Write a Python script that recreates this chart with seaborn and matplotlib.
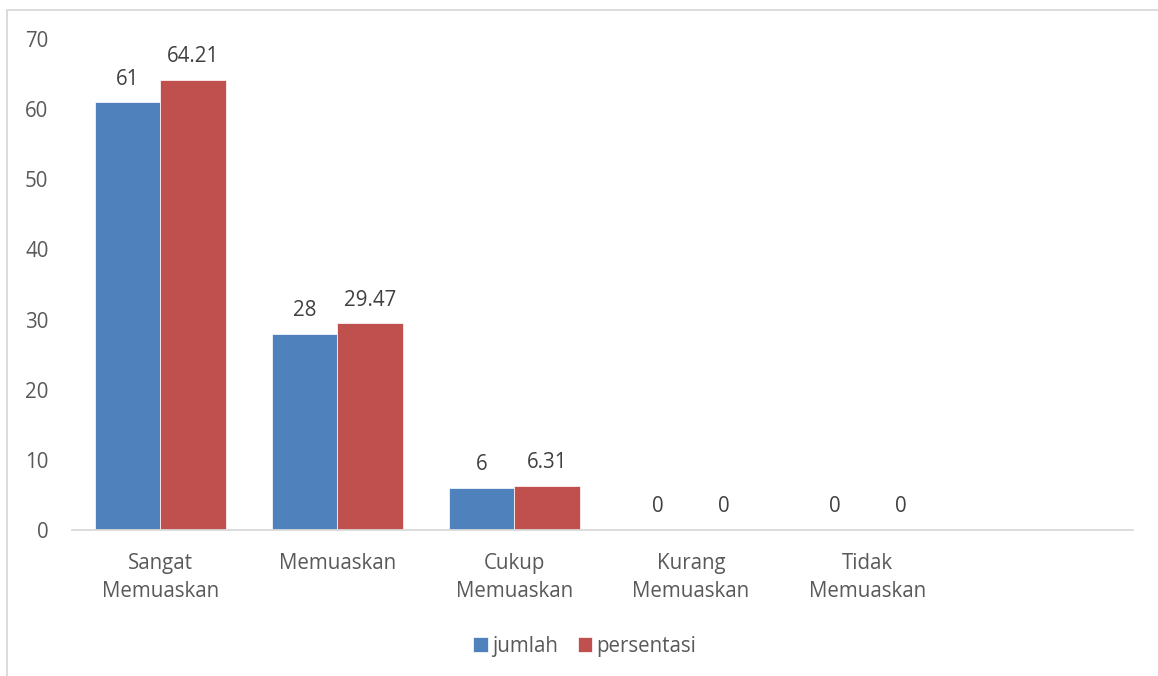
import matplotlib.pyplot as plt
import matplotlib.patches as patches
import seaborn as sns
import pandas as pd

categories = ["Sangat\nMemuaskan", "Memuaskan", "Cukup\nMemuaskan", "Kurang\nMemuaskan", "Tidak\nMemuaskan"]
jumlah = [61, 28, 6, 0, 0]
persentasi = [64.21, 29.47, 6.31, 0, 0]
series = ["jumlah", "persentasi"]
colors = ["#4F81BD", "#C0504D"]

df = pd.DataFrame({
    "kategori": categories * 2,
    "seri": [series[0]] * len(categories) + [series[1]] * len(categories),
    "nilai": jumlah + persentasi,
})

sns.set_style("white")
plt.rcParams["font.family"] = ["Open Sans", "DejaVu Sans"]
fs = 14.8

fig = plt.figure(figsize=(11.58, 6.76), dpi=100)
ax = fig.add_axes([0.0622, 0.216, 0.9162, 0.7263])

# extra empty slot at the end, like the original chart
order = categories + [" "]
sns.barplot(data=df, x="kategori", y="nilai", hue="seri", order=order,
            palette=colors, width=0.74, saturation=1, ax=ax, legend=True,
            linewidth=0.5, edgecolor="white")

for cont, vals in zip(ax.containers, [jumlah, persentasi]):
    ax.bar_label(cont, labels=[f"{v:g}" for v in vals], padding=9,
                 fontsize=fs, color="#404040")

ax.set_ylim(0, 70)
ax.set_xlim(-0.5, 5.5)
ax.set_yticks(range(0, 71, 10))
ax.set_xlabel("")
ax.set_ylabel("")
ax.tick_params(axis="y", length=0, pad=17, labelsize=fs, labelcolor="#595959")
ax.tick_params(axis="x", length=0, pad=16.5, labelsize=fs, labelcolor="#595959")
for lbl in ax.get_xticklabels():
    lbl.set_linespacing(1.45)

sns.despine(ax=ax, left=True)
ax.spines["bottom"].set_color("#D9D9D9")
ax.spines["bottom"].set_linewidth(1.3)

handles, labels = ax.get_legend_handles_labels()
ax.legend_.remove()
fig.legend(handles, labels, loc="center", bbox_to_anchor=(0.505, 0.044), ncol=2,
           frameon=False, fontsize=fs, handlelength=0.7, handleheight=0.7,
           handletextpad=0.2, columnspacing=1.0, labelcolor="#595959")

# chart area border
fig.patches.append(patches.Rectangle((7 / 1158, -0.1), 1.1, 1.1 - 10 / 676,
                                     transform=fig.transFigure, fill=False,
                                     edgecolor="#D9D9D9", linewidth=1.3))

fig.savefig("out.png", dpi=100)
